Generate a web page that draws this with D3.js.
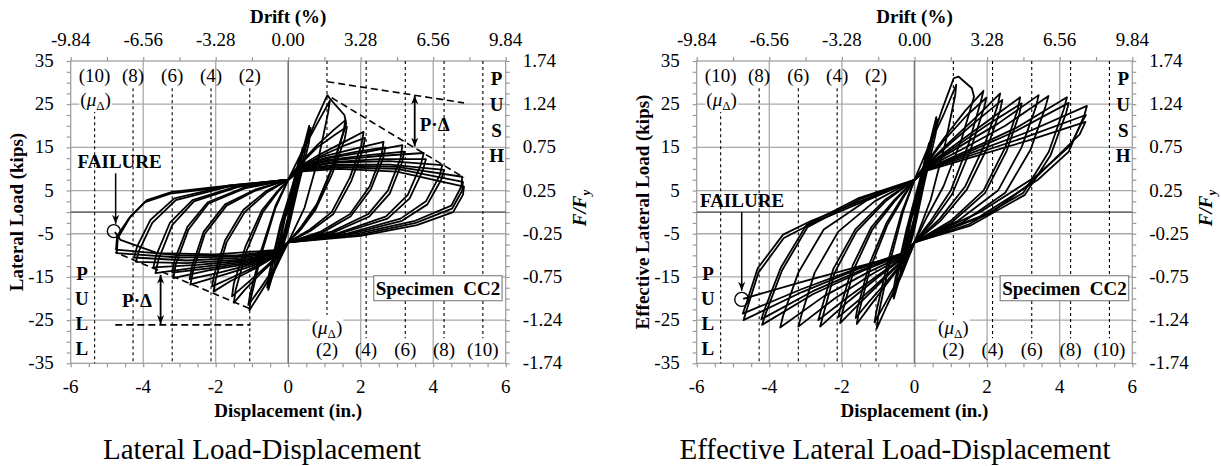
<!DOCTYPE html>
<html><head><meta charset="utf-8">
<script src="https://cdn.jsdelivr.net/npm/d3@7"></script>
<style>
body{margin:0;background:#fff}
svg{display:block}
text{font-family:"Liberation Serif","Times New Roman",serif;fill:#000}
</style>
</head><body>
<svg id="c" width="1221" height="466"></svg>
<script>
// ---------------- data ----------------
const dispTicks = [-6, -4, -2, 0, 2, 4, 6];
const driftLabels = ["-9.84", "-6.56", "-3.28", "0.00", "3.28", "6.56", "9.84"];
const loadTicks = [35, 25, 15, 5, -5, -15, -25, -35];
const ffyLabels = ["1.74", "1.24", "0.75", "0.25", "-0.25", "-0.75", "-1.24", "-1.74"];
const gridLoads = [25, 15, 5, -5, -15, -25];
const gridDisps = [-4, -2, 2, 4];
const ductNeg = [-5.34, -4.28, -3.2, -2.13, -1.06];
const ductNegLabels = ["(10)", "(8)", "(6)", "(4)", "(2)"];
const ductPos = [1.07, 2.15, 3.23, 4.3, 5.37];
const ductPosLabels = ["(2)", "(4)", "(6)", "(8)", "(10)"];

// Lateral load (kips) vs displacement (in.) cycles
const lateralCycles = [
 [[0,0],[0.15,6],[0.3,12],[0.28,10],[0.1,2],[0,-1],[-0.15,-6],[-0.3,-11],[-0.27,-9],[-0.08,-1],[0,0]],
 [[0,0],[0.2,8],[0.4,15],[0.37,12],[0.15,3],[0,-2],[-0.2,-9],[-0.4,-14],[-0.36,-11],[-0.12,-2],[0,1]],
 [[0,1],[0.3,11],[0.58,20],[0.54,17],[0.25,6],[0,-3],[-0.3,-11],[-0.55,-18],[-0.5,-15],[-0.22,-4],[0,2]],
 [[0,2],[0.3,12],[0.62,19.5],[0.57,16],[0.25,5],[0,-4],[-0.3,-12],[-0.58,-17.5],[-0.52,-14],[-0.22,-3],[0,3]],
 [[0,3],[0.35,12.5],[0.75,21],[1.08,27.1],[1.15,26.3],[1.55,22.5],[1.6,20.5],[1.25,11],[0.8,2],[0.35,-3.5],[0,-7],[-0.35,-13],[-0.75,-18.5],[-1.07,-22.7],[-1.03,-20],[-0.75,-10],[-0.35,1],[0,7.5]],
 [[0,7.5],[0.35,13.5],[0.8,20.5],[1.15,25.8],[1.1,23],[0.85,13],[0.45,1],[0,-7],[-0.35,-12.5],[-0.8,-18],[-1.1,-21.5],[-1.05,-19],[-0.75,-9],[-0.35,1.5],[0,7.5]],
 [[0,7.5],[0.3,11],[0.8,15.5],[1.25,19],[1.58,21.3],[1.52,18.5],[1.2,10],[0.75,1],[0.35,-3.5],[0,-7],[-0.3,-10.5],[-0.8,-14.5],[-1.2,-18],[-1.5,-21],[-1.45,-18],[-1.15,-9],[-0.7,0],[-0.3,4.5],[0,7.5]],
 [[0,7.5],[0.3,10.8],[0.8,15],[1.3,18],[1.62,19.8],[1.56,17],[1.22,9],[0.75,0.5],[0.35,-4],[0,-7],[-0.3,-10.2],[-0.8,-14],[-1.25,-17.3],[-1.55,-19.5],[-1.5,-16.5],[-1.18,-8],[-0.72,0.5],[-0.3,4.8],[0,7.5]],
 [[0,7.5],[0.3,10.5],[0.9,13.5],[1.6,16.5],[2.08,18.6],[2.02,15.5],[1.7,8],[1.2,0],[0.6,-4],[0,-7],[-0.3,-10],[-0.9,-13],[-1.6,-16],[-2.06,-18.4],[-2,-15.5],[-1.7,-7],[-1.2,0],[-0.6,4.5],[0,7.5]],
 [[0,7.5],[0.3,10.3],[0.9,13],[1.6,15.6],[2.12,17.2],[2.06,14.5],[1.74,7.2],[1.24,-0.5],[0.62,-4.3],[0,-7],[-0.3,-9.9],[-0.9,-12.6],[-1.6,-15.3],[-2.1,-17.2],[-2.04,-14.5],[-1.74,-6.5],[-1.24,0.5],[-0.62,4.8],[0,7.5]],
 [[0,7.5],[0.3,10.5],[1,13],[1.9,14.8],[2.63,16.3],[2.58,13.5],[2.25,6],[1.7,-0.5],[0.9,-4.5],[0,-7],[-0.3,-10],[-1,-12.5],[-1.9,-14.8],[-2.7,-16.8],[-2.62,-13.5],[-2.3,-5],[-1.7,1.5],[-0.9,5],[0,7.5]],
 [[0,7.5],[0.3,10.2],[1,12.5],[1.9,14],[2.68,15],[2.62,12.5],[2.28,5.3],[1.72,-1],[0.92,-4.8],[0,-7],[-0.3,-9.8],[-1,-12.1],[-1.9,-14],[-2.72,-15.5],[-2.65,-12.5],[-2.33,-4.5],[-1.74,1.8],[-0.92,5.2],[0,7.5]],
 [[0,7.5],[0.3,10.5],[1.1,12.5],[2.2,14],[3.15,15.5],[3.1,12.5],[2.75,5],[2.2,-0.5],[1.2,-4.5],[0,-7],[-0.3,-9.8],[-1.1,-12],[-2.2,-13.5],[-3.17,-15.3],[-3.1,-12],[-2.75,-4],[-2.2,2],[-1.2,5.5],[0,7.5]],
 [[0,7.5],[0.3,10.2],[1.1,12.1],[2.2,13.2],[3.2,14],[3.14,11.5],[2.8,4.3],[2.24,-1],[1.22,-4.8],[0,-7],[-0.3,-9.6],[-1.1,-11.7],[-2.2,-13],[-3.2,-14],[-3.13,-11],[-2.78,-3.4],[-2.22,2.3],[-1.22,5.7],[0,7.5]],
 [[0,7.5],[0.3,10.3],[1.2,12],[2.5,13],[3.74,13.7],[3.66,11],[3.3,4],[2.7,-1],[1.4,-4.8],[0,-7],[-0.3,-9.6],[-1.2,-11.5],[-2.5,-12.8],[-3.66,-14.1],[-3.58,-11],[-3.2,-3],[-2.6,2.5],[-1.4,5.8],[0,7.5]],
 [[0,7.5],[0.3,10],[1.2,11.6],[2.5,12.3],[3.8,12.3],[3.72,9.8],[3.35,3.2],[2.74,-1.5],[1.42,-5],[0,-7],[-0.3,-9.4],[-1.2,-11.2],[-2.5,-12.2],[-3.72,-12.8],[-3.64,-10],[-3.26,-2.4],[-2.64,2.8],[-1.42,6],[0,7.5]],
 [[0,7.5],[0.3,10],[1.3,11.5],[2.8,11.8],[4.25,10.9],[4.18,8.5],[3.8,2.5],[3.1,-1.5],[1.6,-5],[0,-7],[-0.3,-9.4],[-1.3,-11],[-2.8,-11.8],[-4.2,-11.5],[-4.12,-9],[-3.75,-2.5],[-3.1,2.8],[-1.6,6],[0,7.5]],
 [[0,7.5],[0.3,9.8],[1.3,11],[2.8,11],[4.3,9.8],[4.22,7.5],[3.84,1.8],[3.14,-2],[1.62,-5.2],[0,-7],[-0.3,-9.2],[-1.3,-10.6],[-2.8,-11.2],[-4.25,-10.5],[-4.17,-8],[-3.8,-1.8],[-3.14,3.2],[-1.62,6.2],[0,7.5]],
 [[0,7.5],[0.3,9.8],[1.4,10.8],[3,10.5],[4.8,8.2],[4.78,6],[4.5,1.5],[3.5,-2],[2,-4.8],[0,-7],[-0.3,-9],[-1.4,-10.3],[-3,-10.5],[-4.73,-9.5],[-4.7,-6],[-4.35,-1],[-3.9,2.8],[-3.2,4.7],[-1.6,6.2],[0,7.5]],
 [[0,7.5],[0.3,9.6],[1.4,10.4],[3,10],[4.82,7],[4.8,5],[4.52,0.8],[3.52,-2.5],[2,-5.2],[0,-7],[-0.3,-8.9],[-1.4,-10],[-3,-10],[-4.75,-8.7],[-4.72,-5.5],[-4.4,-1.5],[-3.95,2.3],[-3.25,4.3],[-1.6,6],[0,7.5]],
 [[0,7.5],[0.3,9.4],[1.4,10],[3,9.4],[4.85,5.9],[4.82,4],[4.55,0],[3.55,-3],[2,-5.5],[0,-7],[-0.4,-8.8],[-2,-9.8],[-3.61,-9.5],[-4.63,-6.4],[-4.78,-4.6]]
];

// Effective lateral load (kips) vs displacement (in.) cycles
const effectiveCycles = [
 [[0,0],[0.15,6],[0.3,12.5],[0.28,10.5],[0.1,2],[0,-1],[-0.15,-6],[-0.3,-11.5],[-0.27,-9.5],[-0.08,-1],[0,0]],
 [[0,0],[0.2,8.5],[0.4,16],[0.37,13],[0.15,3.5],[0,-2],[-0.2,-9.5],[-0.4,-15],[-0.36,-12],[-0.12,-2.5],[0,1]],
 [[0,1],[0.3,12],[0.6,22],[0.55,19],[0.25,7],[0,-3],[-0.3,-12],[-0.57,-20],[-0.52,-17],[-0.22,-5],[0,2]],
 [[0,2],[0.3,12.5],[0.63,21.5],[0.58,18],[0.25,6],[0,-4],[-0.3,-13],[-0.6,-19.5],[-0.54,-16],[-0.22,-4],[0,3]],
 [[0,3],[0.35,13.5],[0.75,23.5],[1.08,31],[1.21,31.4],[1.58,28.7],[1.64,26.7],[1.3,17],[0.8,6],[0.35,-1],[0,-7],[-0.35,-14.5],[-0.75,-21.5],[-1.04,-26.9],[-1.0,-24],[-0.72,-13],[-0.32,0],[0,7.5]],
 [[0,7.5],[0.35,14.5],[0.8,22.5],[1.15,29.5],[1.12,27],[0.85,16],[0.45,3],[0,-7],[-0.35,-14],[-0.8,-21],[-1.1,-25.5],[-1.05,-23],[-0.75,-12],[-0.35,0],[0,7.5]],
 [[0,7.5],[0.3,11],[0.8,17],[1.4,23.5],[1.9,28.1],[1.84,26],[1.5,16],[1.0,5],[0.45,-2],[0,-7],[-0.3,-11.5],[-0.8,-17],[-1.25,-22],[-1.59,-25.9],[-1.54,-23.5],[-1.22,-13],[-0.75,-3],[-0.3,3.5],[0,7.5]],
 [[0,7.5],[0.3,10.8],[0.8,16.5],[1.45,22.5],[1.98,26.5],[1.92,24.3],[1.56,14.8],[1.04,4.2],[0.47,-2.5],[0,-7],[-0.3,-11.2],[-0.8,-16.4],[-1.28,-21],[-1.62,-24.5],[-1.57,-22.2],[-1.25,-12.2],[-0.77,-2.5],[-0.31,3.8],[0,7.5]],
 [[0,7.5],[0.3,10.8],[1,16.5],[1.7,22],[2.36,27.5],[2.3,25],[1.95,16],[1.4,6],[0.7,-1.5],[0,-7],[-0.3,-11],[-0.9,-16],[-1.5,-21],[-2.05,-25.7],[-1.98,-23],[-1.66,-13],[-1.16,-4],[-0.55,2.5],[0,7.5]],
 [[0,7.5],[0.3,10.6],[1,16],[1.72,21.2],[2.42,26],[2.36,23.6],[2,14.8],[1.44,5.2],[0.72,-2],[0,-7],[-0.3,-10.8],[-0.9,-15.6],[-1.52,-20.3],[-2.1,-24.3],[-2.03,-21.8],[-1.7,-12.3],[-1.19,-3.5],[-0.56,2.8],[0,7.5]],
 [[0,7.5],[0.3,10.5],[1.1,15.5],[2,21],[2.91,26.6],[2.85,24],[2.5,15],[1.9,5],[1,-2],[0,-7],[-0.3,-10.5],[-1,-15],[-1.8,-20.5],[-2.6,-26.5],[-2.52,-24],[-2.2,-14],[-1.6,-4.5],[-0.8,2.5],[0,7.5]],
 [[0,7.5],[0.3,10.3],[1.1,15],[2,20.2],[2.95,25.2],[2.89,22.8],[2.54,14.2],[1.94,4.4],[1.02,-2.4],[0,-7],[-0.3,-10.3],[-1,-14.6],[-1.82,-19.6],[-2.65,-25],[-2.57,-22.6],[-2.24,-13.2],[-1.63,-4],[-0.82,2.8],[0,7.5]],
 [[0,7.5],[0.3,10.3],[1.2,15],[2.3,20.5],[3.42,27.1],[3.35,24.5],[2.95,15],[2.3,5],[1.2,-2],[0,-7],[-0.3,-10.2],[-1.2,-14.5],[-2.2,-20],[-3.2,-26.5],[-3.12,-24],[-2.75,-14],[-2.1,-4.5],[-1.1,2.5],[0,7.5]],
 [[0,7.5],[0.3,10.2],[1.3,14.5],[2.5,20],[3.69,26.9],[3.6,24.2],[3.2,14.5],[2.5,4.5],[1.3,-2.5],[0,-7],[-0.3,-10],[-1.3,-14],[-2.5,-19.5],[-3.7,-26.7],[-3.62,-24],[-3.2,-14],[-2.5,-4],[-1.3,2.8],[0,7.5]],
 [[0,7.5],[0.3,10],[1.4,14],[2.8,19.5],[4.2,26.6],[4.12,24],[3.7,14],[3,4.5],[1.5,-2.8],[0,-7],[-0.3,-9.8],[-1.4,-13.5],[-2.8,-19],[-4.2,-26.1],[-4.1,-23.5],[-3.65,-13.5],[-2.95,-3.5],[-1.5,3],[0,7.5]],
 [[0,7.5],[0.3,9.9],[1.4,13.6],[2.8,18.8],[4.25,25.3],[4.17,22.8],[3.75,13.2],[3.04,4],[1.52,-3.2],[0,-7],[-0.3,-9.7],[-1.4,-13.2],[-2.8,-18.3],[-4.22,-24.8],[-4.12,-22.3],[-3.68,-12.8],[-2.98,-3],[-1.52,3.3],[0,7.5]],
 [[0,7.5],[0.3,9.8],[1.5,13.5],[3.1,18.5],[4.75,24.6],[4.68,22.5],[4.25,14],[3.4,7.5],[1.8,-1],[0,-7],[-0.3,-9.5],[-1.5,-13],[-3.1,-18.5],[-4.71,-25],[-4.6,-22],[-4.3,-14],[-3.6,-6],[-2.8,-2.5],[-1.4,2.5],[0,7.5]],
 [[0,7.5],[0.3,9.7],[1.5,13],[3.1,17.5],[4.72,22.5],[4.61,20.8],[4.3,15.5],[3.33,8.2],[1.8,0],[0,-7],[-0.3,-9.4],[-1.5,-12.8],[-3.1,-17.8],[-4.73,-23.5],[-4.62,-20.8],[-4.32,-13],[-3.62,-5.2],[-2.84,-2],[-1.42,2.8],[0,7.5]],
 [[0,7.5],[0.3,9.5],[1.5,12.5],[3.1,16.5],[4.71,20.9],[4.55,18],[3.19,6.7],[2.09,-0.3],[0,-7],[-0.12,-9.5],[-1.5,-12.5],[-3,-15.9],[-4.53,-19.6],[-4.72,-20.1]]
];

// P-Delta annotations (left panel), in data units
const pdTopDashed = [[1.08, 30.2], [4.85, 25.3]];
const pdTopEnvelope = [[1.2, 26.5], [4.85, 8.0]];
const pdTopArrow = [[3.49, 27.0], [3.49, 15.2]];
const pdBotDashed = [[-4.77, -26.1], [-1.04, -26.1]];
const pdBotEnvelope = [[-1.07, -22.3], [-4.77, -9.3]];
const pdBotArrow = [[-3.52, -14.5], [-3.52, -25.9]];

// ---------------- drawing ----------------
const svg = d3.select("#c");
svg.append("rect").attr("width", 1221).attr("height", 466).attr("fill", "#fff");
const defs = svg.append("defs");
defs.append("marker").attr("id", "ah")
  .attr("viewBox", "0 0 10 10").attr("refX", 10).attr("refY", 5)
  .attr("markerWidth", 9).attr("markerHeight", 9).attr("markerUnits", "userSpaceOnUse")
  .attr("orient", "auto-start-reverse")
  .append("path").attr("d", "M0,1 L10,5 L0,9 L3,5 Z").attr("fill", "#000");

const Y_TOP = 61, Y_BOT = 363.3;
const FS = 19;

const panels = [
  { x0: 70.7, x1: 505.7, cycles: lateralCycles, ylabel: "Lateral Load (kips)",
    caption: "Lateral Load-Displacement", capX: 262, left: true },
  { x0: 696.7, x1: 1132.3, cycles: effectiveCycles, ylabel: "Effective Lateral Load (kips)",
    caption: "Effective Lateral Load-Displacement", capX: 895, left: false }
];

panels.forEach(p => {
  const x = d3.scaleLinear().domain([-6, 6]).range([p.x0, p.x1]);
  const y = d3.scaleLinear().domain([-35, 35]).range([Y_BOT, Y_TOP]);
  const g = svg.append("g");

  // grid
  g.selectAll("line.hg").data(gridLoads).join("line").attr("class", "hg")
    .attr("x1", p.x0).attr("x2", p.x1).attr("y1", d => y(d)).attr("y2", d => y(d))
    .attr("stroke", "#a9a9a9").attr("stroke-width", 1.3);
  g.selectAll("line.vg").data(gridDisps).join("line").attr("class", "vg")
    .attr("y1", Y_TOP).attr("y2", Y_BOT).attr("x1", d => x(d)).attr("x2", d => x(d))
    .attr("stroke", "#a9a9a9").attr("stroke-width", 1.3);
  // frame
  g.append("rect").attr("x", p.x0).attr("y", Y_TOP).attr("width", p.x1 - p.x0).attr("height", Y_BOT - Y_TOP)
    .attr("fill", "none").attr("stroke", "#a0a0a0").attr("stroke-width", 1.3);

  // ticks
  const minorY = d3.range(-35, 35.01, 2.5);
  const axes = [
    g.append("g").attr("transform", `translate(${p.x0},0)`).call(d3.axisLeft(y).tickValues(minorY).tickSize(4).tickFormat("")),
    g.append("g").attr("transform", `translate(${p.x1},0)`).call(d3.axisRight(y).tickValues(minorY).tickSize(4).tickFormat("")),
    g.append("g").attr("transform", `translate(0,${Y_TOP})`).call(d3.axisTop(x).tickValues(d3.range(-6, 6.01, 1)).tickSize(4).tickFormat("")),
    g.append("g").attr("transform", `translate(0,${Y_BOT})`).call(d3.axisBottom(x).tickValues(d3.range(-6, 6.01, 0.5)).tickSize(4).tickFormat(""))
  ];
  axes.forEach(a => {
    a.select(".domain").remove();
    a.selectAll("line").attr("stroke", "#999").attr("stroke-width", 1.2);
  });

  // zero lines
  g.append("line").attr("x1", p.x0).attr("x2", p.x1).attr("y1", y(0)).attr("y2", y(0))
    .attr("stroke", "#707070").attr("stroke-width", 1.6);
  g.append("line").attr("x1", x(0)).attr("x2", x(0)).attr("y1", Y_TOP).attr("y2", Y_BOT)
    .attr("stroke", "#707070").attr("stroke-width", 1.6);

  // ductility dashed lines
  g.selectAll("line.dn").data(ductNeg).join("line").attr("class", "dn")
    .attr("x1", d => x(d)).attr("x2", d => x(d))
    .attr("y1", (d, i) => i === 0 ? y(23.6) : y(28.7)).attr("y2", Y_BOT)
    .attr("stroke", "#000").attr("stroke-width", 1.1).attr("stroke-dasharray", "3,3");
  g.selectAll("line.dp").data(ductPos).join("line").attr("class", "dp")
    .attr("x1", d => x(d)).attr("x2", d => x(d))
    .attr("y1", Y_TOP).attr("y2", (d, i) => i === 0 ? y(-23.8) : y(-29.2))
    .attr("stroke", "#000").attr("stroke-width", 1.1).attr("stroke-dasharray", "3,3");

  // hysteresis
  const line = d3.line().x(d => x(d[0])).y(d => y(d[1]));
  g.selectAll("path.cyc").data(p.cycles).join("path").attr("class", "cyc")
    .attr("d", line).attr("fill", "none").attr("stroke", "#000")
    .attr("stroke-width", 1.8).attr("stroke-linejoin", "round");

  // tick labels
  g.selectAll("text.ly").data(loadTicks).join("text").attr("class", "ly")
    .attr("x", p.x0 - 17).attr("y", d => y(d) + 6).attr("text-anchor", "end")
    .attr("font-size", FS).text(d => String(d));
  g.selectAll("text.ry").data(loadTicks).join("text").attr("class", "ry")
    .attr("x", p.x1 + 17).attr("y", d => y(d) + 6).attr("text-anchor", "start")
    .attr("font-size", FS).text((d, i) => ffyLabels[i]);
  g.selectAll("text.tx").data(dispTicks).join("text").attr("class", "tx")
    .attr("x", d => x(d)).attr("y", 45.5).attr("text-anchor", "middle")
    .attr("font-size", FS).text((d, i) => driftLabels[i]);
  g.selectAll("text.bx").data(dispTicks).join("text").attr("class", "bx")
    .attr("x", d => x(d)).attr("y", 393).attr("text-anchor", "middle")
    .attr("font-size", FS).text(d => String(d));

  // axis titles
  g.append("text").attr("x", x(0)).attr("y", 22.5).attr("text-anchor", "middle")
    .attr("font-size", FS).attr("font-weight", "bold").text("Drift (%)");
  g.append("text").attr("x", x(0)).attr("y", 417).attr("text-anchor", "middle")
    .attr("font-size", FS).attr("font-weight", "bold").text("Displacement (in.)");
  g.append("text").attr("transform", `translate(${p.x0 - 48},212) rotate(-90)`)
    .attr("text-anchor", "middle").attr("font-size", FS).attr("font-weight", "bold").text(p.ylabel);
  const ff = g.append("text").attr("transform", `translate(${p.x1 + 80},208) rotate(-90)`)
    .attr("text-anchor", "middle").attr("font-size", FS).attr("font-weight", "bold").attr("font-style", "italic");
  ff.append("tspan").text("F/F");
  ff.append("tspan").attr("font-size", 13).attr("dy", 4).text("y");

  // ductility labels
  g.selectAll("text.dnl").data(ductNeg).join("text").attr("class", "dnl")
    .attr("x", d => x(d)).attr("y", 82).attr("text-anchor", "middle")
    .attr("font-size", FS).text((d, i) => ductNegLabels[i]);
  g.selectAll("text.dpl").data(ductPos).join("text").attr("class", "dpl")
    .attr("x", d => x(d)).attr("y", 356).attr("text-anchor", "middle")
    .attr("font-size", FS).text((d, i) => ductPosLabels[i]);
  function mu(cx, by) {
    const gg = g.append("g");
    const t = gg.append("text").attr("x", cx).attr("y", by).attr("text-anchor", "middle").attr("font-size", FS);
    t.append("tspan").text("(");
    t.append("tspan").attr("font-style", "italic").text("μ");
    t.append("tspan").attr("font-size", 13).attr("dy", 4).text("Δ");
    t.append("tspan").attr("dy", -4).text(")");
    const bb = t.node().getBBox();
    gg.insert("rect", "text").attr("x", bb.x - 1).attr("y", bb.y + 2).attr("width", bb.width + 2).attr("height", bb.height - 3).attr("fill", "#fff");
  }
  mu(x(ductNeg[0]) + 1, 106);
  mu(x(ductPos[0]), 334);

  // PUSH / PULL
  const push = ["P", "U", "S", "H"], pull = ["P", "U", "L", "L"];
  const pushY = [85, 111, 136.5, 162], pullY = [280, 305, 330, 354.5];
  g.selectAll("text.push").data(push).join("text").attr("class", "push")
    .attr("x", x(5.75)).attr("y", (d, i) => pushY[i]).attr("text-anchor", "middle")
    .attr("font-size", FS).attr("font-weight", "bold").text(d => d);
  g.selectAll("text.pull").data(pull).join("text").attr("class", "pull")
    .attr("x", x(-5.69)).attr("y", (d, i) => pullY[i]).attr("text-anchor", "middle")
    .attr("font-size", FS).attr("font-weight", "bold").text(d => d);

  // Specimen box
  g.append("rect").attr("x", x(2.36)).attr("y", 275.7).attr("width", x(5.9) - x(2.36)).attr("height", 25)
    .attr("fill", "#fff").attr("stroke", "#888").attr("stroke-width", 1.2);
  g.append("text").attr("x", (x(2.36) + x(5.9)) / 2).attr("y", 295).attr("text-anchor", "middle")
    .attr("font-size", FS).attr("font-weight", "bold").attr("xml:space", "preserve").text("Specimen  CC2");

  // caption
  svg.append("text").attr("x", p.capX).attr("y", 459).attr("text-anchor", "middle")
    .attr("font-size", 29).text(p.caption);

  // failure annotation
  if (p.left) {
    g.append("text").attr("x", x(-4.65)).attr("y", y(10.15)).attr("text-anchor", "middle")
      .attr("font-size", FS).attr("font-weight", "bold").text("FAILURE");
    g.append("line").attr("x1", x(-4.76)).attr("x2", x(-4.76)).attr("y1", y(9.0)).attr("y2", y(-2.7))
      .attr("stroke", "#000").attr("stroke-width", 1.5).attr("marker-end", "url(#ah)");
    g.append("circle").attr("cx", x(-4.81)).attr("cy", y(-4.4)).attr("r", 6.5)
      .attr("fill", "none").attr("stroke", "#000").attr("stroke-width", 1.4);

    const dl = d3.line().x(d => x(d[0])).y(d => y(d[1]));
    [pdTopDashed, pdTopEnvelope, pdBotDashed, pdBotEnvelope].forEach(seg => {
      g.append("path").attr("d", dl(seg)).attr("fill", "none").attr("stroke", "#000")
        .attr("stroke-width", 1.6).attr("stroke-dasharray", "7,4");
    });
    [pdTopArrow, pdBotArrow].forEach(seg => {
      g.append("path").attr("d", dl(seg)).attr("fill", "none").attr("stroke", "#000")
        .attr("stroke-width", 1.8).attr("marker-start", "url(#ah)").attr("marker-end", "url(#ah)");
    });
    g.append("text").attr("x", x(4.04)).attr("y", y(18.8)).attr("text-anchor", "middle")
      .attr("font-size", FS).attr("font-weight", "bold").text("P·Δ");
    g.append("text").attr("x", x(-4.17)).attr("y", y(-21.9)).attr("text-anchor", "middle")
      .attr("font-size", FS).attr("font-weight", "bold").text("P·Δ");
  } else {
    g.append("text").attr("x", x(-5.91)).attr("y", y(1.1)).attr("text-anchor", "start")
      .attr("font-size", FS).attr("font-weight", "bold").text("FAILURE");
    g.append("line").attr("x1", x(-4.76)).attr("x2", x(-4.76)).attr("y1", y(0)).attr("y2", y(-18.2))
      .attr("stroke", "#000").attr("stroke-width", 1.5).attr("marker-end", "url(#ah)");
    g.append("circle").attr("cx", x(-4.76)).attr("cy", y(-20.2)).attr("r", 7)
      .attr("fill", "none").attr("stroke", "#000").attr("stroke-width", 1.4);
  }
});
</script>
</body></html>
